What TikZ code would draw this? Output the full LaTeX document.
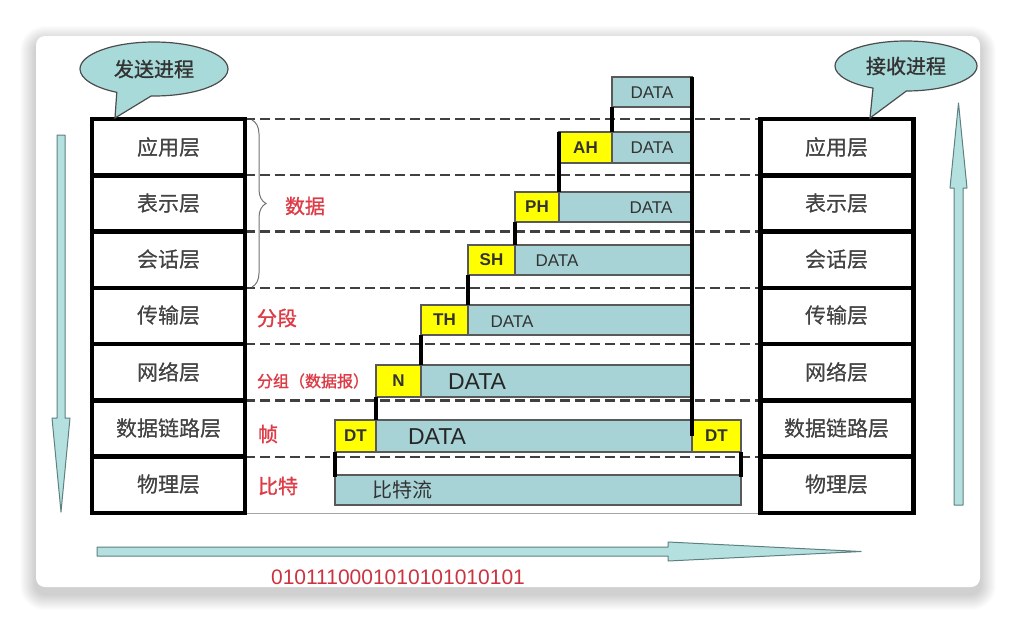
\documentclass[tikz,border=0pt]{standalone}
\usepackage{fontspec}
\setmainfont{Liberation Sans}
\newfontfamily\cjk{Noto Sans CJK SC}
\newfontfamily\cjkb[FakeBold=1.2]{Noto Sans CJK SC}
\usetikzlibrary{shapes.callouts,decorations.pathreplacing}
\definecolor{paycol}{HTML}{A7D3D6}
\definecolor{hdrcol}{HTML}{FFFF00}
\definecolor{bubcol}{HTML}{A9DADA}
\definecolor{arrcol}{HTML}{B4E0E0}
\definecolor{arredge}{HTML}{5E8080}
\definecolor{redtxt}{HTML}{DD3B46}
\definecolor{bittxt}{HTML}{CC3340}
\definecolor{laytxt}{HTML}{444444}
\begin{document}
\begin{tikzpicture}[x=1pt,y=-1pt,
  layer/.style={draw=black, line width=4.5pt, minimum width=153pt, minimum height=56.29pt,
    inner sep=0pt, outer sep=0pt, text=laytxt, font=\cjk\fontsize{21}{21}\selectfont},
  box/.style={draw=black!65, line width=1.2pt, inner sep=0pt, outer sep=0pt, anchor=north west},
  hdr/.style={box, fill=hdrcol, text=black!80, font=\bfseries\fontsize{17}{17}\selectfont},
  pay/.style={box, fill=paycol},
  paytext/.style={text=black!80, font=\fontsize{17}{17}\selectfont},
  bigpay/.style={text=black!85, font=\fontsize{23}{23}\selectfont},
  cjkpay/.style={text=black!80, font=\cjk\fontsize{20}{20}\selectfont},
  redlab/.style={text=redtxt, font=\cjkb\fontsize{20}{20}\selectfont},
  dashline/.style={draw=black!75, line width=2.4pt, dash pattern=on 10pt off 5pt},
  stepline/.style={draw=black, line width=4pt},
  arrowshape/.style={fill=arrcol, draw=arredge, line width=1pt, line join=round},
  bubble/.style={ellipse callout, fill=bubcol, draw=black!70, line width=1.2pt,
    inner sep=0pt, callout pointer arc=28, text=black!80, font=\cjkb\fontsize{20}{20}\selectfont},
]
\useasboundingbox (0,0) rectangle (1016,624);

% soft shadow and white card
\foreach \k [evaluate=\k as \r using 9+\k] in {1,...,16}
  \fill[black, opacity=0.010, rounded corners=\r pt] ({36-\k},{42-\k}) rectangle ({980+\k},{594+\k});
\fill[white, rounded corners=9pt] (36,36) rectangle (980,587);

% direction arrows
\filldraw[arrowshape] (57,135) -- (65,135) -- (65,418) -- (70,418) -- (61,512) -- (52,418) -- (57,418) -- cycle;
\filldraw[arrowshape] (954,505) -- (963,505) -- (963,188) -- (967,188) -- (958.5,103) -- (950,188) -- (954,188) -- cycle;
\filldraw[arrowshape] (97,547) -- (668,547) -- (668,542) -- (861,551.5) -- (668,561) -- (668,556) -- (97,556) -- cycle;

% protocol stacks
\foreach \t [count=\i] in {应用层,表示层,会话层,传输层,网络层,数据链路层,物理层} {
  \node[layer] (L\i) at (168.5,{119+56.29*(\i-0.5)}) {\t};
  \node[layer] (R\i) at (837,{119+56.29*(\i-0.5)}) {\t};
}
\foreach \i in {1,...,7}
  \draw[dashline] (L\i.north east) -- (R\i.north west);
\draw[black!35, line width=0.8pt] (L7.south east) -- (R7.south west);
% redraw stacks above the dashes
\foreach \t [count=\i] in {应用层,表示层,会话层,传输层,网络层,数据链路层,物理层} {
  \node[layer] at (168.5,{119+56.29*(\i-0.5)}) {\t};
  \node[layer] at (837,{119+56.29*(\i-0.5)}) {\t};
}

% brace and unit names
\draw[black!55, line width=1pt, decorate, decoration={brace, amplitude=14pt}] (252,120) -- (252,287);
\node[redlab] (lData) at (305,206) {数据};
\node[redlab] (lSeg) at (277,318) {分段};
\node[redlab, font=\cjkb\fontsize{16}{16}\selectfont] (lPkt) at (313,381) {分组（数据报）};
\node[redlab] (lFrm) at (268,434) {帧};
\node[redlab] (lBit) at (278,486) {比特};

% encapsulation steps
\node[pay, minimum width=80pt, minimum height=30pt] (D0) at (612,77) {};
\node[paytext] (t0) at (652,93) {DATA};

\node[hdr, minimum width=53pt, minimum height=31pt] (AH) at (559,132) {AH};
\node[pay, minimum width=80pt, minimum height=31pt] (D1) at (612,132) {};
\node[paytext] (t1) at (652,148) {DATA};

\node[hdr, minimum width=44pt, minimum height=30pt] (PH) at (515,192) {PH};
\node[pay, minimum width=133pt, minimum height=30pt] (D2) at (559,192) {};
\node[paytext] (t2) at (651,208) {DATA};

\node[hdr, minimum width=47pt, minimum height=30pt] (SH) at (468,245) {SH};
\node[pay, minimum width=177pt, minimum height=30pt] (D3) at (515,245) {};
\node[paytext] (t3) at (557,261) {DATA};

\node[hdr, minimum width=47pt, minimum height=30pt] (TH) at (421,305) {TH};
\node[pay, minimum width=224pt, minimum height=30pt] (D4) at (468,305) {};
\node[paytext] (t4) at (512,322) {DATA};

\node[hdr, minimum width=45pt, minimum height=32pt] (N) at (376,365) {N};
\node[pay, minimum width=271pt, minimum height=32pt] (D5) at (421,365) {};
\node[bigpay] (t5) at (477,382) {DATA};

\node[hdr, minimum width=41pt, minimum height=32pt] (DTl) at (335,420) {DT};
\node[pay, minimum width=316pt, minimum height=32pt] (D6) at (376,420) {};
\node[bigpay] (t6) at (437,437) {DATA};
\node[hdr, minimum width=49pt, minimum height=32pt] (DTr) at (692,420) {DT};

\node[pay, minimum width=406pt, minimum height=30pt] (bits) at (335,475) {};
\node[cjkpay] (t7) at (402,490) {比特流};

\draw[stepline] (D0.north east) -- (DTr.west);
\draw[stepline] (D0.south west) -- (D1.north west);
\draw[stepline] (AH.north west) -- (D2.north west);
\draw[stepline] (PH.south west) -- (D3.north west);
\draw[stepline] (SH.south west) -- (D4.north west);
\draw[stepline] (TH.south west) -- (D5.north west);
\draw[stepline] (N.south west) -- (D6.north west);
\draw[stepline, shorten >=-2pt] (DTl.south west) -- (bits.north west);
\draw[stepline, shorten >=-2pt] (DTr.south east) -- (bits.north east);

% bit stream
\node[text=bittxt, font=\fontsize{21}{21}\selectfont] (bitstr) at (398,577) {0101110001010101010101};

% process bubbles
\coordinate (tipS) at (115,118);
\coordinate (tipR) at (870,118);
\node[bubble, minimum width=148pt, minimum height=54pt, callout absolute pointer={(tipS)}] (send) at (154,69) {发送进程};
\node[bubble, minimum width=142pt, minimum height=50pt, callout absolute pointer={(tipR)}] (recv) at (906,66) {接收进程};
\end{tikzpicture}
\end{document}
